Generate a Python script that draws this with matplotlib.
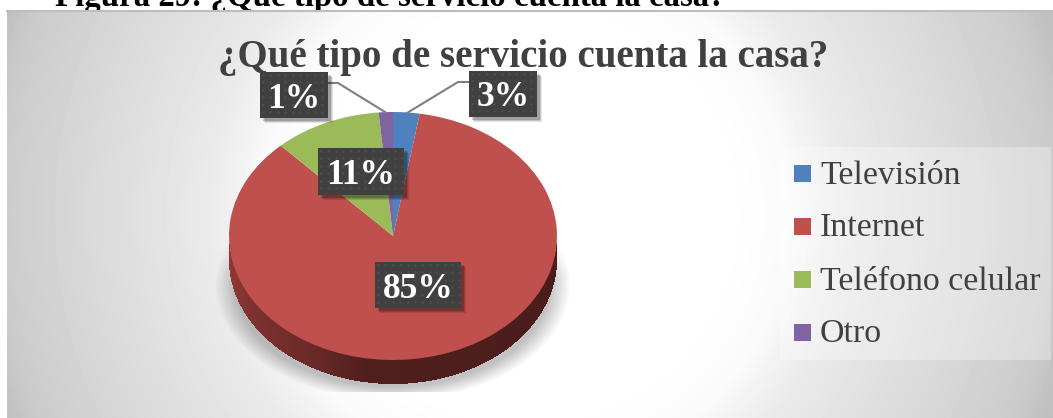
import matplotlib
matplotlib.use("Agg")
import matplotlib.pyplot as plt
from matplotlib.patches import Rectangle
import numpy as np

categories = ["Televisión", "Internet", "Teléfono celular", "Otro"]
values = [2.6, 85.4, 10.6, 1.4]
colors = ["#4f81bd", "#c0504d", "#9bbb59", "#8064a2"]

title = "¿Qué tipo de servicio cuenta la casa?"
caption = "Figura 29: ¿Qué tipo de servicio cuenta la casa?"

W, H = 1053, 418
SERIF = "Liberation Serif"
TEXT_GREY = "#404040"

# pie ellipse, in pixels
CX, CY, RX, RY = 393, 236, 164, 124
DEPTH = 24

plt.rcParams["font.family"] = SERIF
fig = plt.figure(figsize=(W / 100, H / 100), dpi=100, facecolor="white")

### Background, in pixel coordinates ###
ax = fig.add_axes([0, 0, 1, 1], zorder=0)
ax.set_xlim(0, W)
ax.set_ylim(H, 0)
ax.axis("off")

ax.text(55, 6, caption, fontsize=23.7, fontweight="bold", color="black", va="baseline", zorder=1)

# radial background of the chart area
xx, yy = np.meshgrid(np.arange(7, W) + 0.5, np.arange(10, H) + 0.5)
dist = np.hypot(xx - 526, yy - 214)
grey = np.interp(dist, [0, 200, 264, 296, 320, 360, 472, 527, 556, 590],
                 [255, 255, 250, 240, 234, 228, 212, 203, 192, 188])
ax.imshow(grey, cmap="gray", vmin=0, vmax=255, extent=(7, W, H, 10), aspect="auto", zorder=2)
ax.plot([7, W], [10.5, 10.5], color="#bdbdbd", linewidth=1.5, zorder=3)
ax.set_xlim(0, W)
ax.set_ylim(H, 0)

# shadow under the pie
xs, ys = np.meshgrid(np.arange(210, 580) + 0.5, np.arange(220, 392) + 0.5)
r = np.sqrt(((xs - CX) / 178) ** 2 + ((ys - 285) / 116) ** 2)
shadow = np.zeros(xs.shape + (4,))
shadow[..., 3] = np.clip((1 - r) / 0.12, 0, 1) * np.clip((ys - 225) / 50, 0, 1) * 0.24
ax.imshow(shadow, extent=(210, 580, 392, 220), aspect="auto", zorder=4)
ax.set_xlim(0, W)
ax.set_ylim(H, 0)

# side wall of the pie, darker towards the right
wall_x = np.arange(CX - RX, CX + RX)
for x in wall_x:
    u = np.clip((x + 0.5 - CX) / RX, -1, 1)
    y_top = CY + RY * np.sqrt(1 - u ** 2) - 2
    shade = np.interp(x, [229, 250, 317, 367, 557], [0.56, 0.50, 0.41, 0.31, 0.29])
    ax.add_patch(Rectangle((x, y_top), 1, DEPTH + 2, facecolor=(shade, shade * 0.39, shade * 0.37),
                           linewidth=0, zorder=5))

### Pie ###
pie_ax = fig.add_axes([(CX - RX) / W, 1 - (CY + RY) / H, 2 * RX / W, 2 * RY / H], zorder=1)
wedges, _ = pie_ax.pie(values, colors=colors, startangle=90, counterclock=False,
                       wedgeprops={"linewidth": 0})
pie_ax.set_aspect("auto")
pie_ax.set_xlim(-1, 1)
pie_ax.set_ylim(-1, 1)
pie_ax.patch.set_alpha(0)

### Labels, title and legend ###
top = fig.add_axes([0, 0, 1, 1], zorder=2)
top.set_xlim(0, W)
top.set_ylim(H, 0)
top.axis("off")

top.text(523, 67.5, title, fontsize=28, fontweight="bold", color=TEXT_GREY, ha="center", va="baseline")

# leader lines
top.plot([328, 338, 385], [83, 83, 112], color="#7f7f7f", linewidth=1.5, zorder=2)
top.plot([469, 458, 407], [82, 82, 113], color="#7f7f7f", linewidth=1.5, zorder=2)

# label boxes: left, top, width, height
label_boxes = [(469, 71, 68, 46), (375, 262, 86, 46), (318, 148, 86, 47), (260, 72, 68, 46)]
for value, (bx, by, bw, bh) in zip(values, label_boxes):
    for off, a in [(5, 0.10), (4, 0.14), (3, 0.18)]:
        top.add_patch(Rectangle((bx + off, by + off), bw, bh, facecolor="black", alpha=a, linewidth=0, zorder=3))
    top.add_patch(Rectangle((bx, by), bw, bh, facecolor="#404040", linewidth=0, zorder=4))
    gx, gy = np.meshgrid(np.arange(bx + 3, bx + bw - 1, 7.4), np.arange(by + 3, by + bh - 1, 7.4))
    top.scatter(gx.ravel(), gy.ravel(), s=2.5, color="#505050", linewidths=0, zorder=5)
    top.text(bx + bw / 2, by + bh / 2 + 12.5, f"{value:.0f}%", fontsize=25.5, fontweight="bold",
             color="white", ha="center", va="baseline", zorder=6)

# legend
top.add_patch(Rectangle((780, 147), 271, 213, facecolor="white", alpha=0.3, linewidth=0, zorder=1))
legend_y = [173.5, 226.5, 279.5, 332.5]
for name, color, ly in zip(categories, colors, legend_y):
    top.add_patch(Rectangle((794, ly - 8.5), 17, 17, facecolor=color, linewidth=0, zorder=2))
    top.text(820, ly + 10, name, fontsize=24.4, color=TEXT_GREY, va="baseline", zorder=2)

fig.savefig("out.png", dpi=100)
